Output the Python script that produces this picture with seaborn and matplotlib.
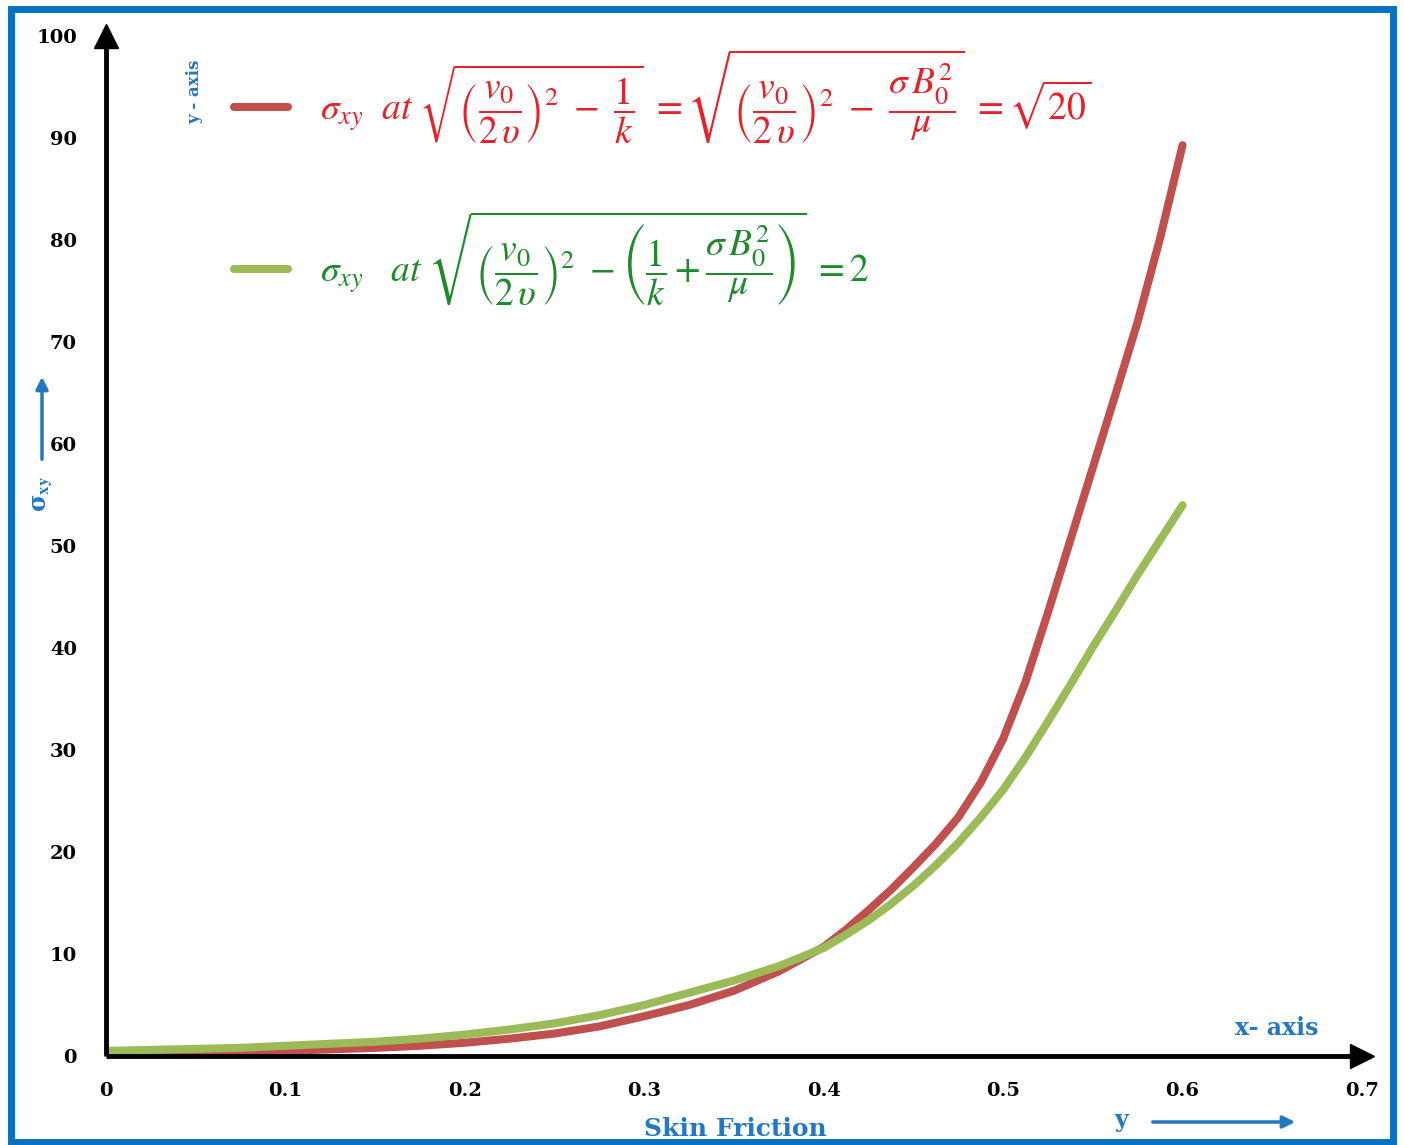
import numpy as np
import pandas as pd
import matplotlib
matplotlib.use("Agg")
import matplotlib.pyplot as plt
import seaborn as sns
from matplotlib.patches import Rectangle, FancyArrowPatch

# values
y_pos = [0.0, 0.025, 0.05, 0.075, 0.1, 0.125, 0.15, 0.175, 0.2, 0.225, 0.25, 0.275,
         0.3, 0.325, 0.35, 0.375, 0.4, 0.4125, 0.425, 0.4375, 0.45, 0.4625, 0.475,
         0.4875, 0.5, 0.5125, 0.525, 0.5375, 0.55, 0.5625, 0.575, 0.5875, 0.6]
sigma_sqrt20 = [0.3, 0.3, 0.35, 0.4, 0.5, 0.65, 0.8, 1.0, 1.3, 1.7, 2.2, 2.9,
                3.9, 5.0, 6.4, 8.3, 10.7, 12.4, 14.3, 16.3, 18.5, 20.8, 23.4,
                26.8, 31.1, 36.7, 43.5, 50.6, 57.7, 64.8, 72.0, 80.2, 89.3]
sigma_two = [0.5, 0.6, 0.7, 0.8, 1.0, 1.2, 1.4, 1.7, 2.1, 2.6, 3.2, 4.0,
             5.0, 6.2, 7.4, 8.8, 10.6, 11.9, 13.3, 14.9, 16.7, 18.7, 20.9,
             23.4, 26.1, 29.3, 32.8, 36.4, 40.1, 43.6, 47.2, 50.6, 54.0]

x_ticks = [0, 0.1, 0.2, 0.3, 0.4, 0.5, 0.6, 0.7]
x_tick_labels = ["0", "0.1", "0.2", "0.3", "0.4", "0.5", "0.6", "0.7"]
y_ticks = [0, 10, 20, 30, 40, 50, 60, 70, 80, 90, 100]

label_sqrt20 = (r"$\sigma_{xy}\ \ at\ \sqrt{\left(\dfrac{v_0}{2\,\upsilon}\right)^2\ -\ \dfrac{1}{k}}"
                r"\ =\sqrt{\left(\dfrac{v_0}{2\,\upsilon}\right)^2\ -\ \dfrac{\sigma\, B_0^2}{\mu}}\ =\sqrt{20}$")
label_two = (r"$\sigma_{xy}\ \ \ at\ \sqrt{\left(\dfrac{v_0}{2\,\upsilon}\right)^2"
             r"\ -\left(\dfrac{1}{k}+\dfrac{\sigma\, B_0^2}{\mu}\right)}\ =2$")

RED_LINE = "#C0504D"
GREEN_LINE = "#9BBB59"
RED_TEXT = "#E8202A"
GREEN_TEXT = "#1E8A2C"
BLUE = "#2378C0"

df = pd.DataFrame({
    "y": y_pos + y_pos,
    "sigma": sigma_sqrt20 + sigma_two,
    "case": ["sqrt20"] * len(y_pos) + ["two"] * len(y_pos),
})

sns.set_style("white")
plt.rcParams["mathtext.fontset"] = "stix"
plt.rcParams["font.family"] = ["DejaVu Serif"]

W, H = 1404, 1145
fig = plt.figure(figsize=(W / 100, H / 100), dpi=100)
ax = fig.add_axes([106 / W, 1 - 1056 / H, (1362 - 106) / W, (1056 - 36) / H])

sns.lineplot(data=df, x="y", y="sigma", hue="case",
             palette={"sqrt20": RED_LINE, "two": GREEN_LINE},
             linewidth=5.8, legend=False, ax=ax, sort=False)
for ln in ax.lines:
    ln.set_solid_capstyle("round")
    ln.set_solid_joinstyle("round")

ax.set_xlim(0, 0.7)
ax.set_ylim(0, 100)
ax.set_xticks(x_ticks)
ax.set_xticklabels(x_tick_labels)
ax.set_yticks(y_ticks)
ax.set_xlabel("")
ax.set_ylabel("")
for s in ["top", "right"]:
    ax.spines[s].set_visible(False)
for s in ["left", "bottom"]:
    ax.spines[s].set_linewidth(3.5)
    ax.spines[s].set_color("black")
    ax.spines[s].set_capstyle("butt")
ax.tick_params(axis="both", direction="out", length=5, width=3.5, color="black",
               labelsize=14, labelcolor="black")
ax.tick_params(axis="y", pad=16)
ax.tick_params(axis="x", pad=14)
for lab in ax.get_xticklabels() + ax.get_yticklabels():
    lab.set_fontweight("bold")

# arrow heads on the axes
ax.plot([0], [100], marker="^", ms=17, color="black", clip_on=False)
ax.plot([0.7], [0], marker=">", ms=17, color="black", clip_on=False)

# legend
leg = ax.legend(handles=ax.lines[:2], labels=[label_sqrt20, label_two],
                loc="upper left", bbox_to_anchor=(200 / W, 1 - 14 / H),
                bbox_transform=fig.transFigure, frameon=False, fontsize=27,
                handlelength=1.45, handletextpad=0.85, labelspacing=1.68,
                labelcolor=[RED_TEXT, GREEN_TEXT])

# annotation texts
fig.text(195 / W, 1 - 92 / H, "y - axis", rotation=90, color=BLUE,
         fontsize=12, fontweight="bold", ha="center", va="center")
fig.text(42 / W, 1 - 494 / H, r"σ$_{\mathbf{xy}}$", rotation=90, color=BLUE,
         fontsize=17, fontweight="bold", ha="center", va="center")
fig.text(1277 / W, 1 - 1028 / H, "x- axis", color=BLUE,
         fontsize=17, fontweight="bold", ha="center", va="center")
fig.text(735 / W, 1 - 1129 / H, "Skin Friction", color=BLUE,
         fontsize=18, fontweight="bold", ha="center", va="center")
fig.text(1121 / W, 1 - 1120 / H, "y", color=BLUE,
         fontsize=17, fontweight="bold", ha="center", va="center")

fig.add_artist(FancyArrowPatch((42 / W, 1 - 462 / H), (42 / W, 1 - 374 / H),
                               transform=fig.transFigure, arrowstyle="-|>",
                               mutation_scale=18, lw=2.5, color=BLUE))
fig.add_artist(FancyArrowPatch((1150 / W, 1 - 1122 / H), (1298 / W, 1 - 1122 / H),
                               transform=fig.transFigure, arrowstyle="-|>",
                               mutation_scale=18, lw=2.5, color=BLUE))

# blue frame around the picture
fig.add_artist(Rectangle((11 / W, 3 / H), (W - 22) / W, (H - 12) / H,
                         transform=fig.transFigure, fill=False,
                         edgecolor="#0A70C4", linewidth=5))

fig.savefig("out.png", dpi=100)
